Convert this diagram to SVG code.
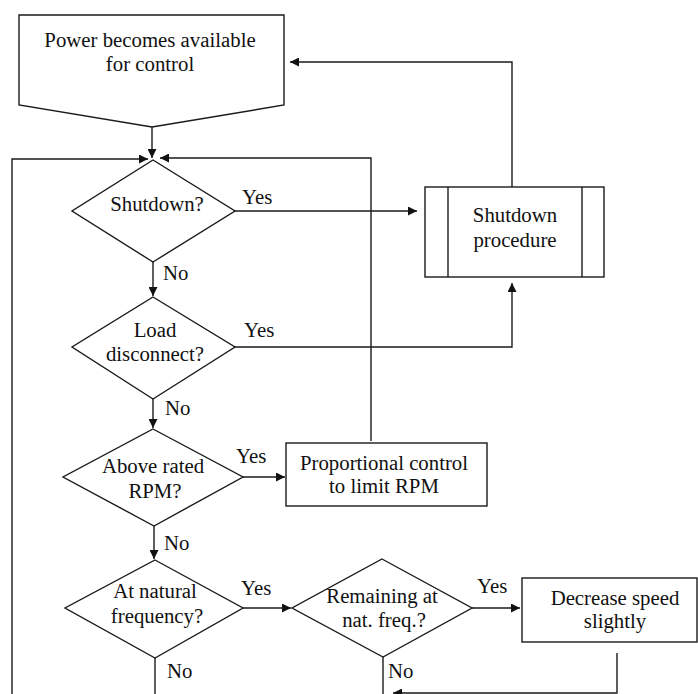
<svg xmlns="http://www.w3.org/2000/svg" width="698" height="694" viewBox="0 0 698 694">
<style>
.s{fill:#fff;stroke:#1a1a1a;stroke-width:1.4}
.c{fill:none;stroke:#1a1a1a;stroke-width:1.4}
.m{text-anchor:middle}
</style>
<defs>
<marker id="ah" viewBox="0 0 10 10" refX="10" refY="5" markerWidth="10" markerHeight="9" orient="auto" markerUnits="userSpaceOnUse">
<path d="M0,0 L10,5 L0,10z" fill="#111"/>
</marker>
</defs>
<g font-family="'Liberation Serif', Tinos, 'Times New Roman', serif" font-size="20.8" fill="#111">
<g id="connectors">
<path class="c" d="M152,127 V158" marker-end="url(#ah)"/>
<path class="c" d="M12,694 V159 H148" marker-end="url(#ah)"/>
<path class="c" d="M371,441 V158 H160" marker-end="url(#ah)"/>
<path class="c" d="M235,211 H417" marker-end="url(#ah)"/>
<path class="c" d="M512,187 V62 H290" marker-end="url(#ah)"/>
<path class="c" d="M235,347 H512 V283" marker-end="url(#ah)"/>
<path class="c" d="M153,262 V296" marker-end="url(#ah)"/>
<path class="c" d="M153,399 V428" marker-end="url(#ah)"/>
<path class="c" d="M243,477 H285" marker-end="url(#ah)"/>
<path class="c" d="M154,526 V559" marker-end="url(#ah)"/>
<path class="c" d="M243,608 H291" marker-end="url(#ah)"/>
<path class="c" d="M472,608 H520" marker-end="url(#ah)"/>
<path class="c" d="M155,658 V694"/>
<path class="c" d="M383,657 V694"/>
<path class="c" d="M617,653 V693 H393" marker-end="url(#ah)"/>
<path class="c" d="M200,698 H157" marker-end="url(#ah)"/>
<text x="242" y="204">Yes</text>
<text x="163" y="280">No</text>
<text x="244" y="337">Yes</text>
<text x="165" y="415">No</text>
<text x="236" y="463">Yes</text>
<text x="164" y="550">No</text>
<text x="241" y="595">Yes</text>
<text x="167" y="678">No</text>
<text x="477" y="593">Yes</text>
<text x="388" y="678">No</text>
</g>
<g id="start">
<path class="s" d="M19,15 H284 V105 L152,127 L19,105 Z"/>
<text class="m" x="150" y="47">Power becomes available</text>
<text class="m" x="150" y="71">for control</text>
</g>
<g id="shutdown-q">
<path class="s" d="M153,160 L235,211 L153,262 L72,211 Z"/>
<text class="m" x="157" y="211">Shutdown?</text>
</g>
<g id="shutdown-proc">
<rect class="s" x="425" y="187" width="179" height="90"/>
<path class="c" d="M448,187 V277 M582,187 V277"/>
<text class="m" x="515" y="222">Shutdown</text>
<text class="m" x="515" y="247">procedure</text>
</g>
<g id="load-q">
<path class="s" d="M153,297 L235,347 L153,399 L72,347 Z"/>
<text class="m" x="155" y="337">Load</text>
<text class="m" x="155" y="361">disconnect?</text>
</g>
<g id="rpm-q">
<path class="s" d="M153,429 L243,477 L154,526 L63,477 Z"/>
<text class="m" x="153" y="473">Above rated</text>
<text class="m" x="155" y="498">RPM?</text>
</g>
<g id="prop-control">
<rect class="s" x="286" y="443" width="201" height="63"/>
<text class="m" x="384" y="470">Proportional control</text>
<text class="m" x="384" y="493">to limit RPM</text>
</g>
<g id="natfreq-q">
<path class="s" d="M155,560 L243,608 L155,658 L65,608 Z"/>
<text class="m" x="155" y="598">At natural</text>
<text class="m" x="157" y="623">frequency?</text>
</g>
<g id="remain-q">
<path class="s" d="M382,559 L472,608 L383,657 L292,608 Z"/>
<text class="m" x="382" y="603">Remaining at</text>
<text class="m" x="384" y="627">nat. freq.?</text>
</g>
<g id="decrease">
<rect class="s" x="522" y="578" width="175" height="64"/>
<text class="m" x="615" y="605">Decrease speed</text>
<text class="m" x="615" y="628">slightly</text>
</g>
</g>
</svg>
